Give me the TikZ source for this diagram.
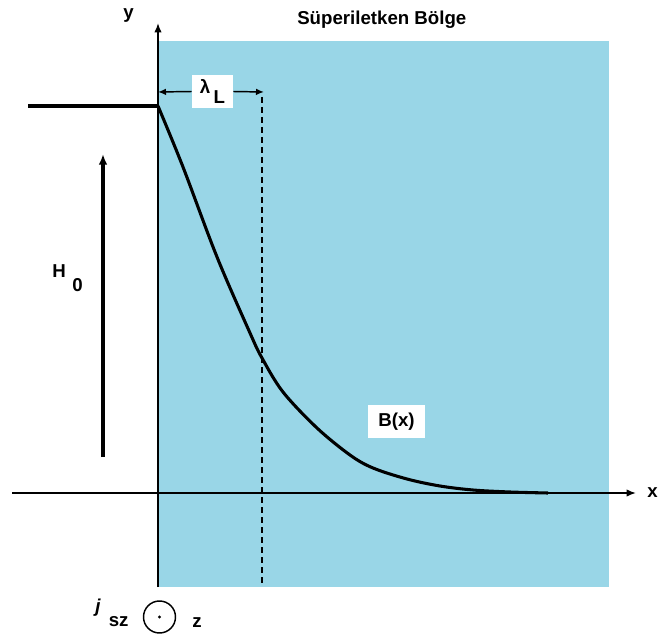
\documentclass[tikz,border=0pt]{standalone}
\usepackage{fontspec}
\setmainfont{Liberation Sans}
\usetikzlibrary{arrows.meta}
\definecolor{scblue}{RGB}{153,214,231}
\begin{document}
\begin{tikzpicture}[x=0.75pt,y=-0.75pt,
  lbl/.style={font=\fontsize{14}{16}\selectfont\bfseries, inner sep=0pt},
  boxlbl/.style={lbl, fill=white},
  axis/.style={line width=1.1pt},
  thickline/.style={line width=2.3pt},
  tip/.style={-{Latex[length=7pt,width=5.5pt]}},
  smalltip/.style={-{Latex[length=6pt,width=5pt]}}]
\useasboundingbox (0,0) rectangle (658,635);
% superconducting region
\fill[scblue] (158,41) rectangle (609,587);
% coordinates
\coordinate (yb) at (158,587);
\coordinate (yt) at (158,23);
\coordinate (xl) at (12,493);
\coordinate (xr) at (636,493);
\coordinate (hl) at (28,106);
\coordinate (o) at (158,106);
\coordinate (hb) at (103,457);
\coordinate (ht) at (103,154);
\coordinate (la) at (158,92);
\coordinate (lb) at (264,92);
\coordinate (dt) at (262,97);
\coordinate (db) at (262,587);
% axes
\draw[axis,tip] (yb) -- (yt);
\draw[axis,tip] (xl) -- (xr);
% dashed lambda line
\draw[line width=0.9pt, dash pattern=on 4.5pt off 3pt] (dt) -- (db);
% applied field
\draw[thickline] (hl) -- (o);
\draw[thickline,-{Latex[length=8pt,width=6.5pt]}] (hb) -- (ht);
% B(x) curve
\draw[thickline, line join=round] plot[smooth, tension=0.55] coordinates
 {(158,106) (183,167) (217,257) (250,333) (262,358) (283,392) (317,428)
  (350,455) (373,468) (407,479) (440,486) (473,490) (510,492) (548,493)};
% lambda_L label and arrows
\node[boxlbl, minimum width=30.75pt, minimum height=24.75pt] (lam) at (212.5,91.5)
  {λ\kern2.5pt\raisebox{-7.5pt}{L}};
\draw[line width=1.1pt,smalltip] (lam.west) -- (la);
\draw[line width=1.1pt,smalltip] (lam.east) -- (lb);
% labels
\node[lbl, anchor=base west] (title) at (297,25) {Süperiletken Bölge};
\node[lbl, anchor=base west] (ylab) at (123,19) {y};
\node[lbl, anchor=base west] (xlab) at (647,497) {x};
\node[lbl, anchor=base west] (h0) at (52,277) {H\kern5pt\raisebox{-11pt}{0}};
\node[boxlbl, minimum width=42.75pt, minimum height=24.75pt] (bx) at (396.5,421.5) {B(x)};
\node[lbl, anchor=base west] (jsz) at (95,612) {\textit{j}\kern6pt\raisebox{-11pt}{sz}};
\node[draw, line width=1.1pt, circle, minimum size=24pt, inner sep=0pt] (zc) at (159.5,617) {};
\fill (zc.center) circle (1.3pt);
\node[lbl, anchor=base west] (zlab) at (192,627) {z};
\end{tikzpicture}
\end{document}
